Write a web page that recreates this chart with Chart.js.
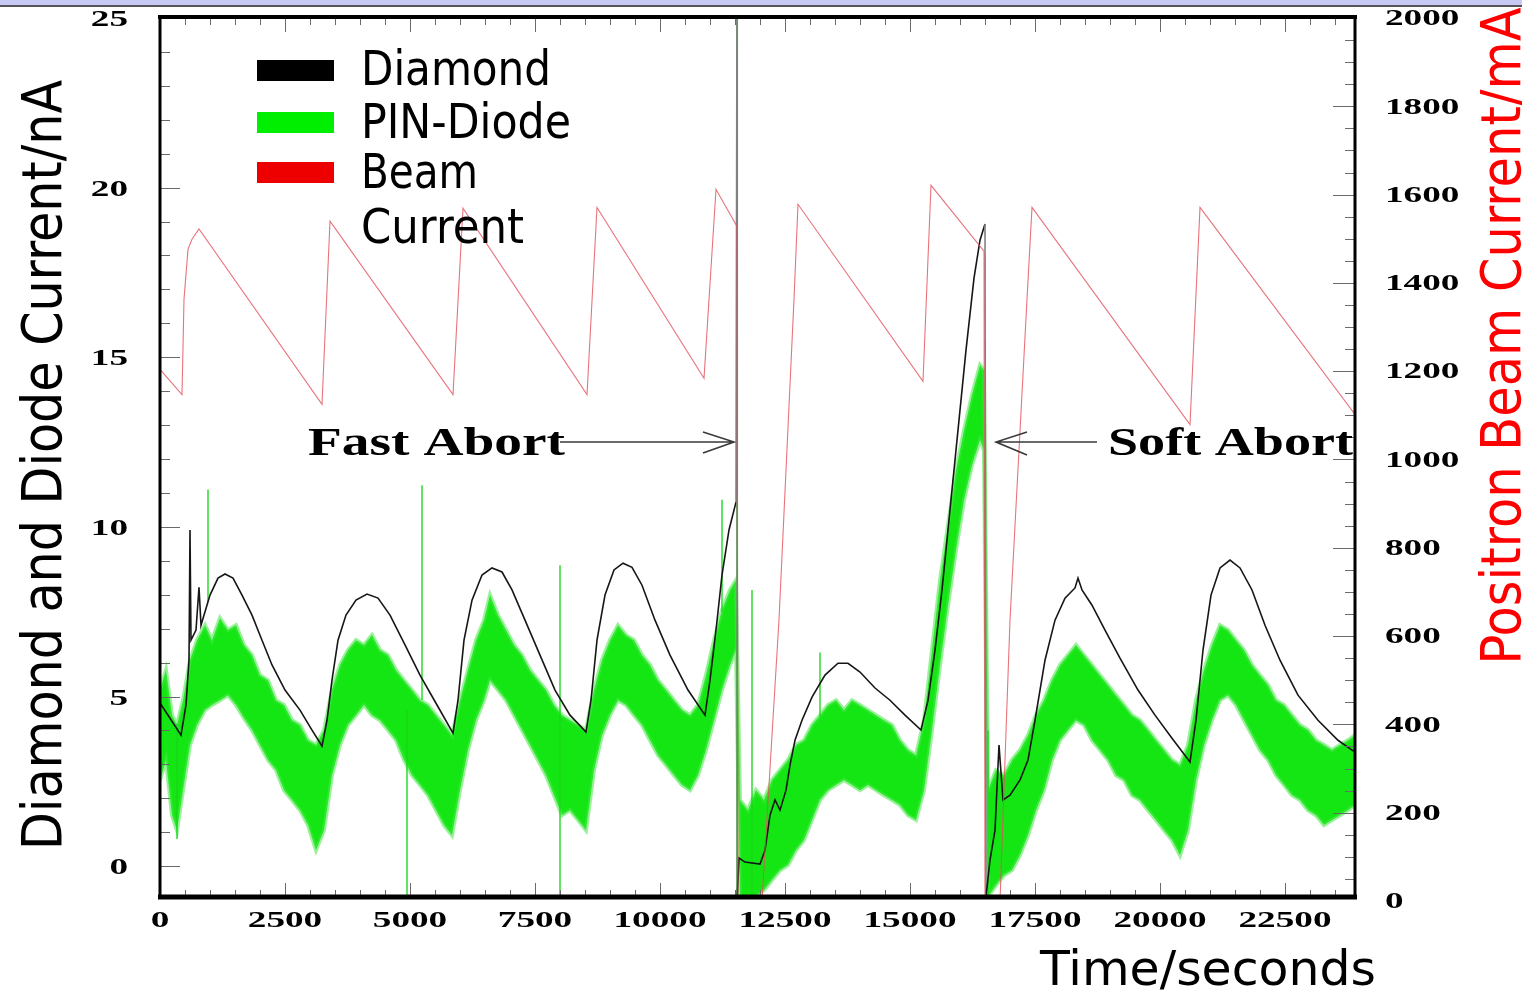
<!DOCTYPE html>
<html>
<head>
<meta charset="utf-8">
<script src="https://cdn.jsdelivr.net/npm/chart.js@4.4.1/dist/chart.umd.min.js"></script>
<style>
  html,body{margin:0;padding:0;background:#fff;width:1522px;height:990px;overflow:hidden;}
  #band{position:absolute;left:0;top:0;width:1522px;height:5px;background:#c8c8f4;border-bottom:2px solid #555;}
  #wrap{position:absolute;left:0;top:0;width:1522px;height:990px;}
</style>
</head>
<body>
<div id="wrap"><canvas id="c" width="1522" height="990"></canvas></div>
<div id="band"></div>
<script>
// ---------- data ----------
// Time axis (seconds)
const X_TICKS = [0, 2500, 5000, 7500, 10000, 12500, 15000, 17500, 20000, 22500];
const Y_TICKS = [0, 5, 10, 15, 20, 25];
const Y2_TICKS = [0, 200, 400, 600, 800, 1000, 1200, 1400, 1600, 1800, 2000];

// Positron beam current (mA) - red saw-tooth
const BEAM_T  = [0, 440, 480, 560, 640, 780, 3240, 3400, 5860, 6060, 8540, 8740, 10880, 11120, 11540, 11560, 12040, 12380, 12680, 12760, 15260, 15420, 16480, 16500, 16800, 17000, 17340, 17440, 20600, 20800, 23900];
const BEAM_MA = [1204, 1147, 1363, 1476, 1499, 1522, 1125, 1540, 1147, 1569, 1147, 1571, 1184, 1612, 1528, 0, 0, 637, 1363, 1578, 1177, 1621, 1472, 0, 0, 637, 1363, 1571, 1079, 1571, 1102];

// Diamond current (nA) - black
const DIAMOND_T  = [0, 200, 420, 520, 580, 600, 620, 720, 780, 820, 1000, 1160, 1300, 1460, 1640, 1840, 2040, 2240, 2500, 2800, 3040, 3240, 3340, 3440, 3560, 3720, 3920, 4140, 4360, 4600, 4900, 5200, 5540, 5860, 5960, 6080, 6240, 6440, 6640, 6840, 7040, 7300, 7600, 7900, 8200, 8520, 8620, 8740, 8900, 9080, 9260, 9440, 9640, 9900, 10200, 10560, 10900, 11000, 11120, 11240, 11380, 11520, 11540, 11545, 11580, 11700, 12000, 12100, 12200, 12300, 12400, 12520, 12600, 12700, 12840, 13040, 13300, 13560, 13760, 14000, 14300, 14600, 14900, 15220, 15360, 15500, 15640, 15800, 15960, 16120, 16280, 16400, 16500, 16520, 16600, 16700, 16780, 16860, 17000, 17200, 17360, 17500, 17700, 17900, 18100, 18300, 18360, 18440, 18640, 18900, 19200, 19560, 19900, 20240, 20600, 20720, 20860, 21020, 21200, 21400, 21600, 21840, 22100, 22400, 22760, 23160, 23560, 23900];
const DIAMOND_NA = [4.81, 4.36, 3.86, 4.75, 6.07, 9.91, 6.66, 6.96, 8.22, 7.10, 7.99, 8.49, 8.61, 8.49, 7.99, 7.40, 6.66, 5.93, 5.19, 4.60, 4.01, 3.54, 4.30, 5.48, 6.66, 7.40, 7.84, 8.02, 7.90, 7.40, 6.52, 5.63, 4.75, 3.92, 4.89, 6.66, 7.84, 8.58, 8.79, 8.67, 8.14, 7.25, 6.22, 5.19, 4.45, 3.95, 4.89, 6.66, 7.99, 8.73, 8.93, 8.81, 8.28, 7.25, 6.22, 5.19, 4.45, 5.48, 6.96, 8.58, 9.91, 10.73, 26.0, -0.9, 0.24, 0.12, 0.06, 0.47, 1.50, 1.95, 1.65, 2.24, 2.98, 3.71, 4.30, 4.98, 5.63, 5.98, 5.98, 5.72, 5.25, 4.89, 4.45, 4.01, 4.89, 6.37, 8.14, 10.50, 12.85, 15.21, 17.33, 18.45, 18.93, -0.9, 0.18, 1.06, 3.57, 1.95, 2.09, 2.54, 3.13, 4.30, 6.07, 7.25, 7.90, 8.20, 8.49, 8.14, 7.69, 6.96, 6.13, 5.19, 4.45, 3.77, 3.07, 4.30, 6.37, 7.99, 8.79, 9.02, 8.79, 8.14, 7.10, 6.07, 5.04, 4.30, 3.71, 3.36];

// PIN-Diode current (nA) - green noisy band, lower and upper envelope
const PIN_T  = [0, 120, 240, 340, 460, 600, 740, 900, 1040, 1200, 1360, 1520, 1680, 1840, 2000, 2160, 2320, 2480, 2640, 2800, 2960, 3120, 3280, 3440, 3600, 3760, 3920, 4080, 4240, 4400, 4560, 4720, 4880, 5040, 5200, 5360, 5520, 5680, 5840, 6000, 6160, 6320, 6480, 6600, 6760, 6920, 7080, 7240, 7400, 7560, 7720, 7880, 8040, 8200, 8360, 8520, 8680, 8840, 9000, 9160, 9320, 9480, 9640, 9800, 9960, 10120, 10280, 10440, 10600, 10760, 10920, 11080, 11240, 11400, 11520, 11600, 11760, 11920, 12080, 12240, 12400, 12560, 12720, 12880, 13040, 13200, 13360, 13520, 13680, 13840, 14000, 14160, 14320, 14480, 14640, 14800, 14960, 15120, 15280, 15440, 15600, 15760, 15920, 16080, 16240, 16400, 16480, 16560, 16720, 16880, 17040, 17200, 17360, 17520, 17680, 17840, 18000, 18160, 18320, 18480, 18640, 18800, 18960, 19120, 19280, 19440, 19600, 19760, 19920, 20080, 20240, 20400, 20560, 20720, 20880, 21040, 21200, 21360, 21520, 21680, 21840, 22000, 22160, 22320, 22480, 22640, 22800, 22960, 23120, 23280, 23440, 23600, 23760, 23900];
const PIN_HI = [5.19, 5.78, 4.45, 4.16, 4.89, 6.07, 6.66, 7.10, 6.66, 7.31, 6.96, 7.10, 6.52, 6.22, 5.63, 5.48, 4.89, 4.75, 4.30, 4.16, 3.71, 3.57, 4.01, 5.19, 5.93, 6.37, 6.66, 6.52, 6.81, 6.37, 6.22, 5.78, 5.48, 5.19, 4.89, 4.75, 4.45, 4.16, 3.86, 4.89, 5.78, 6.66, 7.25, 7.99, 7.40, 6.96, 6.52, 6.22, 5.78, 5.48, 5.19, 4.75, 4.45, 4.30, 4.16, 4.01, 5.19, 6.07, 6.66, 7.10, 6.81, 6.66, 6.22, 5.93, 5.48, 5.19, 4.89, 4.60, 4.45, 4.75, 5.63, 6.66, 7.55, 8.14, 8.43, 1.95, 1.65, 2.24, 1.95, 2.54, 2.83, 3.13, 3.57, 3.71, 4.16, 4.45, 4.75, 4.89, 4.60, 4.89, 4.75, 4.60, 4.45, 4.30, 4.16, 3.71, 3.42, 3.27, 4.30, 6.37, 8.43, 10.05, 11.67, 12.85, 13.89, 14.77, 14.62, 2.24, 2.83, 2.68, 3.13, 3.42, 3.86, 4.45, 4.89, 5.48, 5.93, 6.22, 6.52, 6.22, 5.93, 5.63, 5.34, 5.04, 4.75, 4.45, 4.30, 4.01, 3.71, 3.42, 3.13, 2.98, 3.57, 4.89, 5.78, 6.52, 7.10, 6.96, 6.66, 6.37, 5.93, 5.63, 5.34, 4.89, 4.75, 4.45, 4.16, 4.01, 3.71, 3.57, 3.42, 3.57, 3.71, 3.86];
const PIN_LO = [2.54, 3.13, 1.50, 1.06, 2.24, 3.57, 4.16, 4.60, 4.75, 4.89, 5.04, 4.75, 4.36, 4.01, 3.57, 3.13, 2.83, 2.24, 1.95, 1.65, 1.21, 0.47, 1.06, 2.68, 3.57, 4.16, 4.45, 4.75, 4.45, 4.30, 4.01, 3.71, 3.13, 2.68, 2.39, 2.09, 1.65, 1.21, 0.91, 2.24, 3.42, 4.30, 4.89, 5.48, 5.19, 4.89, 4.45, 4.01, 3.57, 3.13, 2.68, 2.09, 1.50, 1.65, 1.36, 1.06, 2.83, 3.86, 4.45, 4.89, 4.75, 4.45, 4.16, 3.71, 3.27, 2.98, 2.68, 2.39, 2.24, 2.68, 3.42, 4.30, 5.19, 5.93, 6.37, -0.91, -0.91, -0.91, -0.71, -0.41, -0.12, 0.03, 0.47, 0.77, 1.36, 1.95, 2.24, 2.39, 2.54, 2.39, 2.24, 2.39, 2.24, 2.09, 1.95, 1.80, 1.50, 1.36, 2.24, 4.01, 5.93, 7.69, 9.32, 10.79, 11.82, 12.56, 12.26, -0.91, -0.56, -0.27, -0.12, 0.32, 0.91, 1.65, 2.24, 3.13, 3.71, 4.01, 4.30, 4.16, 3.71, 3.42, 3.13, 2.68, 2.54, 2.09, 1.95, 1.65, 1.36, 1.06, 0.77, 0.32, 1.06, 2.54, 3.57, 4.30, 4.89, 5.04, 4.75, 4.30, 3.86, 3.42, 3.13, 2.68, 2.39, 2.09, 1.95, 1.65, 1.50, 1.21, 1.36, 1.50, 1.65, 1.80];

// Isolated PIN-Diode spikes (nA)
const PIN_SPIKE_T  = [340, 960, 4940, 5240, 8000, 11240, 11540, 11840, 13200, 16560];
const PIN_SPIKE_LO = [0.8, 7.8, -0.91, 4.9, -0.91, 7.5, -0.91, -0.91, 4.4, -0.91];
const PIN_SPIKE_HI = [4.2, 11.1, 4.6, 11.23, 8.87, 10.8, 25.0, 8.14, 6.3, 4.0];

// ---------- build ----------
const pts = (xs, ys) => xs.map((x, i) => ({x: x, y: ys[i]}));
const spikes = [];
PIN_SPIKE_T.forEach((t, i) => { spikes.push({x: t, y: PIN_SPIKE_LO[i]}, {x: t, y: PIN_SPIKE_HI[i]}, {x: t, y: null}); });

const GREEN = '#14e614';

function txt(ctx, s, x, y, font, color, align, baseline, opts) {
  opts = opts || {};
  ctx.save();
  ctx.font = font;
  let sx = opts.sx || 1;
  if (opts.width) sx = opts.width / ctx.measureText(s).width;
  ctx.translate(x, y);
  if (opts.rot) ctx.rotate(opts.rot);
  ctx.scale(sx, 1);
  ctx.fillStyle = color;
  ctx.textAlign = align;
  ctx.textBaseline = baseline;
  ctx.fillText(s, 0, 0);
  ctx.restore();
}

const decor = {
  id: 'decor',
  afterDraw(chart) {
    const ctx = chart.ctx;
    const a = chart.chartArea;
    const xs = chart.scales.x, ys = chart.scales.y, y2 = chart.scales.y2;
    ctx.save();
    // minor/major ticks
    ctx.strokeStyle = '#6a6a6a';
    ctx.lineWidth = 1;
    ctx.beginPath();
    for (let v = 0; v <= 25; v++) {
      const p = Math.round(ys.getPixelForValue(v)) + 0.5;
      const L = v % 5 === 0 ? 20 : 10;
      ctx.moveTo(a.left, p); ctx.lineTo(a.left + L, p);
    }
    for (let m = 50; m <= 2000; m += 50) {
      const p = Math.round(y2.getPixelForValue(m)) + 0.5;
      const L = m % 200 === 0 ? 22 : 10;
      ctx.moveTo(a.right, p); ctx.lineTo(a.right - L, p);
    }
    for (let t = 500; t < 23900; t += 500) {
      const p = Math.round(xs.getPixelForValue(t)) + 0.5;
      const L = t % 2500 === 0 ? 14 : 7;
      ctx.moveTo(p, a.bottom); ctx.lineTo(p, a.bottom - L);
      ctx.moveTo(p, a.top); ctx.lineTo(p, a.top + L);
    }
    ctx.stroke();
    // frame
    ctx.strokeStyle = '#000';
    ctx.beginPath(); ctx.lineWidth = 4; ctx.moveTo(a.left - 2, a.top - 1); ctx.lineTo(a.right + 2, a.top - 1); ctx.stroke();
    ctx.beginPath(); ctx.lineWidth = 3; ctx.moveTo(a.left, a.top - 3); ctx.lineTo(a.left, a.bottom + 2); ctx.stroke();
    ctx.beginPath(); ctx.lineWidth = 3; ctx.moveTo(a.right, a.top - 3); ctx.lineTo(a.right, a.bottom + 2); ctx.stroke();
    ctx.beginPath(); ctx.lineWidth = 5; ctx.moveTo(a.left - 2, a.bottom); ctx.lineTo(a.right + 2, a.bottom); ctx.stroke();
    ctx.restore();

    const tickFont = 'bold 24px "Liberation Serif", "DejaVu Serif", serif';
    Y_TICKS.forEach(v => txt(ctx, String(v), 128, ys.getPixelForValue(v) + 2, tickFont, '#000', 'right', 'middle', {sx: 1.55}));
    Y2_TICKS.forEach(v => txt(ctx, String(v), 1385, y2.getPixelForValue(v) + 1, tickFont, '#000', 'left', 'middle', {sx: 1.55}));
    X_TICKS.forEach(v => txt(ctx, String(v), xs.getPixelForValue(v), 921, tickFont, '#000', 'center', 'middle', {sx: 1.55}));

    // axis titles
    const sans = '"DejaVu Sans", sans-serif';
    txt(ctx, 'Diamond and Diode Current/nA', 61, 465, '56px ' + sans, '#000', 'center', 'alphabetic', {rot: -Math.PI / 2, width: 770});
    txt(ctx, 'Positron Beam Current/mA', 1520, 336, '56px ' + sans, '#ff0000', 'center', 'alphabetic', {rot: -Math.PI / 2, width: 657});
    txt(ctx, 'Time/seconds', 1040, 985, '48px ' + sans, '#000', 'left', 'alphabetic', {width: 336});

    // legend
    const lg = [['#000000', 'Diamond', 60], ['#00ee00', 'PIN-Diode', 112], ['#ee0000', 'Beam', 162]];
    lg.forEach(r => { ctx.fillStyle = r[0]; ctx.fillRect(257, r[2], 77, 21); });
    txt(ctx, 'Diamond', 361, 85, '48px ' + sans, '#000', 'left', 'alphabetic', {width: 190});
    txt(ctx, 'PIN-Diode', 361, 138, '48px ' + sans, '#000', 'left', 'alphabetic', {width: 210});
    txt(ctx, 'Beam', 361, 188, '48px ' + sans, '#000', 'left', 'alphabetic', {width: 117});
    txt(ctx, 'Current', 361, 243, '48px ' + sans, '#000', 'left', 'alphabetic', {width: 163});

    // annotations
    const serif = 'bold 40px "Liberation Serif", "DejaVu Serif", serif';
    txt(ctx, 'Fast Abort', 308, 455, serif, '#000', 'left', 'alphabetic', {width: 257});
    txt(ctx, 'Soft Abort', 1108, 455, serif, '#000', 'left', 'alphabetic', {width: 245});
    ctx.save();
    ctx.strokeStyle = '#3a3a3a';
    ctx.lineWidth = 1.6;
    ctx.beginPath();
    ctx.moveTo(560, 442); ctx.lineTo(734, 442);
    ctx.moveTo(703, 432); ctx.lineTo(734, 442); ctx.lineTo(703, 453);
    ctx.moveTo(1097, 442); ctx.lineTo(996, 442);
    ctx.moveTo(1027, 432); ctx.lineTo(996, 442); ctx.lineTo(1027, 455);
    ctx.stroke();
    ctx.restore();
  }
};

new Chart(document.getElementById('c'), {
  type: 'line',
  data: {
    datasets: [
      { label: 'Beam Current', data: pts(BEAM_T, BEAM_MA), yAxisID: 'y2', borderColor: 'rgba(225,80,90,0.8)', borderWidth: 1.1, order: 0 },
      { label: 'Diamond', data: pts(DIAMOND_T, DIAMOND_NA), yAxisID: 'y', borderColor: '#161616', borderWidth: 1.6, order: 1,
        segment: { borderColor: c => (Math.abs(c.p1.parsed.x - c.p0.parsed.x) < 50 && Math.abs(c.p1.parsed.y - c.p0.parsed.y) > 5) ? '#808080' : '#161616' } },
      { label: 'PIN-Diode spikes', data: spikes, yAxisID: 'y', borderColor: 'rgba(25,215,25,0.85)', borderWidth: 1.6, spanGaps: false, order: 2 },
      { label: 'PIN-Diode low', data: pts(PIN_T, PIN_LO), yAxisID: 'y', borderColor: 'rgba(70,232,70,0.55)', borderWidth: 4, fill: false, order: 3 },
      { label: 'PIN-Diode', data: pts(PIN_T, PIN_HI), yAxisID: 'y', borderColor: 'rgba(70,232,70,0.55)', borderWidth: 4, backgroundColor: GREEN, fill: 3, order: 3 }
    ]
  },
  options: {
    responsive: false,
    animation: false,
    devicePixelRatio: 1,
    layout: { padding: { left: 160, top: 18, right: 167, bottom: 93 } },
    elements: { point: { radius: 0 }, line: { tension: 0 } },
    plugins: { legend: { display: false }, tooltip: { enabled: false } },
    scales: {
      x: { type: 'linear', min: 0, max: 23900, display: false },
      y: { type: 'linear', min: -0.91, max: 25, display: false },
      y2: { type: 'linear', position: 'right', min: 9, max: 2000, display: false }
    }
  },
  plugins: [decor]
});
</script>
</body>
</html>
